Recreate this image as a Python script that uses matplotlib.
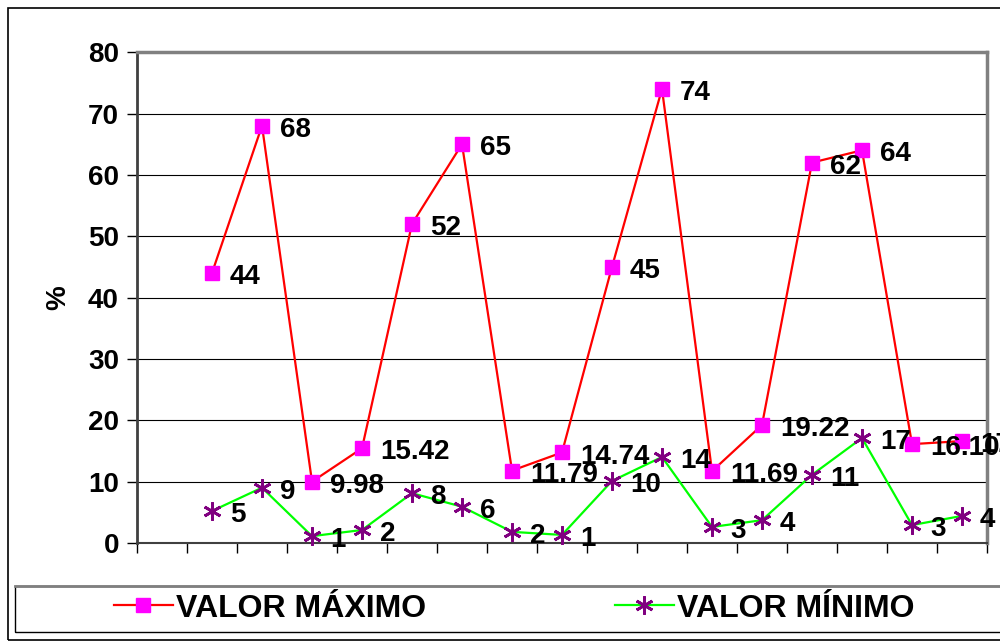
import matplotlib
matplotlib.use("Agg")
import matplotlib.pyplot as plt
from matplotlib.lines import Line2D
from matplotlib.patches import Rectangle
import numpy as np

# values (first category slot is empty)
categories = list(range(1, 17))
valor_maximo = [44, 68, 9.98, 15.42, 52, 65, 11.79, 14.74, 45, 74, 11.69, 19.22, 62, 64, 16.10, 16.6]
labels_maximo = ["44", "68", "9.98", "15.42", "52", "65", "11.79", "14.74",
                 "45", "74", "11.69", "19.22", "62", "64", "16.10", "17"]
valor_minimo = [5.2, 9.0, 1.1, 2.1, 8.1, 5.9, 1.8, 1.3, 10.1, 14.0, 2.6, 3.7, 11.1, 17.1, 2.9, 4.4]
labels_minimo = ["5", "9", "1", "2", "8", "6", "2", "1", "10", "14", "3", "4", "11", "17", "3", "4"]
y_ticks = [0, 10, 20, 30, 40, 50, 60, 70, 80]

plt.rcParams["font.family"] = ["Liberation Sans", "DejaVu Sans"]
plt.rcParams["font.weight"] = "bold"

fig = plt.figure(figsize=(10, 6.44), dpi=100)
fig.patch.set_facecolor("white")
ax = fig.add_axes([0.137, 0.157, 0.850, 0.762])

# outer chart border and legend box
fig.add_artist(Rectangle((0.008, 0.006), 1.2, 0.982, transform=fig.transFigure,
                         fill=False, ec="black", lw=1.2))
fig.add_artist(Rectangle((0.015, 0.019), 1.2, 0.071, transform=fig.transFigure,
                         fill=False, ec="black", lw=1.0))
fig.add_artist(Line2D([0.015, 1.0], [0.090, 0.090], transform=fig.transFigure,
                      color="#808080", lw=2))

x = np.array(categories)
ax.plot(x, valor_maximo, color="#FF0000", lw=1.6, marker="s", ms=10,
        mfc="#FF00FF", mec="#FF00FF", zorder=3, clip_on=False, label="VALOR MÁXIMO")
ax.plot(x, valor_minimo, color="#00FF00", lw=1.6, marker=(6, 2, 0), ms=13,
        mec="#800080", mew=2, zorder=3, clip_on=False, label="VALOR MÍNIMO")

for xi, v, t in zip(x, valor_maximo, labels_maximo):
    ax.annotate(t, (xi, v), xytext=(13, -3), textcoords="offset points",
                va="center", ha="left", fontsize=20, fontweight="bold",
                annotation_clip=False, zorder=4)
for xi, v, t in zip(x, valor_minimo, labels_minimo):
    ax.annotate(t, (xi, v), xytext=(13, -3), textcoords="offset points",
                va="center", ha="left", fontsize=20, fontweight="bold",
                annotation_clip=False, zorder=4)

ax.set_xlim(-0.5, 16.5)
ax.set_ylim(0, 80)
ax.set_yticks(y_ticks)
ax.set_yticklabels([str(t) for t in y_ticks], fontsize=20, fontweight="bold")
ax.tick_params(axis="y", direction="out", length=7, width=1, pad=6, color="black")
ax.set_xticks(np.arange(-0.5, 17, 1))
ax.set_xticklabels([])
ax.tick_params(axis="x", direction="out", length=7, width=1, color="black")
ax.grid(axis="y", color="black", lw=0.8)
ax.set_axisbelow(True)
ax.set_ylabel("%", fontsize=20, fontweight="bold", labelpad=12)

ax.spines["top"].set_color("#808080")
ax.spines["top"].set_linewidth(2.5)
ax.spines["right"].set_color("#808080")
ax.spines["right"].set_linewidth(2.5)
ax.spines["left"].set_color("#404040")
ax.spines["left"].set_linewidth(2)
ax.spines["bottom"].set_color("#404040")
ax.spines["bottom"].set_linewidth(1.5)

handles, lbls = ax.get_legend_handles_labels()
fig.legend(handles, lbls, loc="center", bbox_to_anchor=(0.514, 0.055), ncol=2,
           frameon=False, prop={"weight": "bold", "size": 23},
           columnspacing=5.9, handlelength=1.85, handletextpad=0.1)

fig.savefig("out.png", dpi=100, facecolor=fig.get_facecolor())
